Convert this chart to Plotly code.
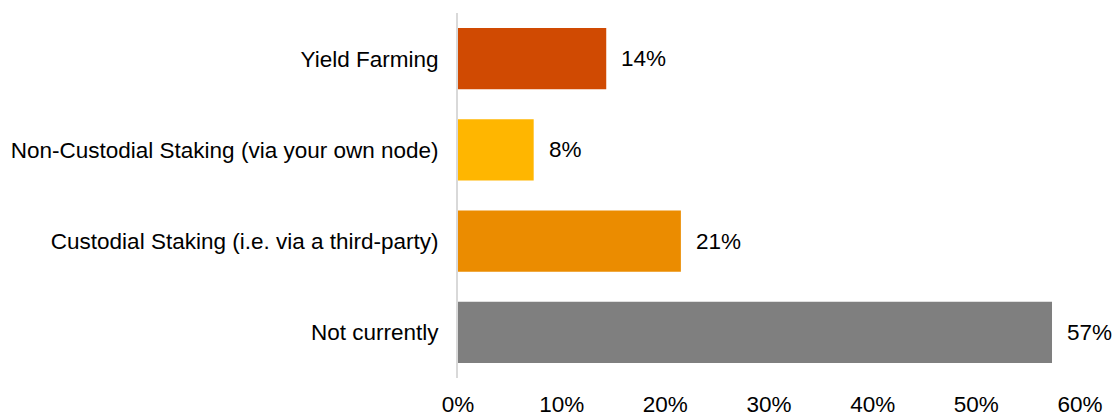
import plotly.graph_objects as go

categories = ["Yield Farming", "Non-Custodial Staking (via your own node)",
              "Custodial Staking (i.e. via a third-party)", "Not currently"]
values = [14.3, 7.3, 21.5, 57.3]
labels = ["14%", "8%", "21%", "57%"]
colors = ["#D04A02", "#FFB600", "#EB8C00", "#7F7F7F"]
xticks = [0, 10, 20, 30, 40, 50, 60]
xticklabels = ["0%", "10%", "20%", "30%", "40%", "50%", "60%"]

FS = 22.5

fig = go.Figure()
fig.add_trace(go.Bar(
    x=values, y=categories, orientation="h",
    marker=dict(color=colors, line=dict(width=0)),
    width=0.67, showlegend=False, hoverinfo="skip",
))
for c, v, t in zip(categories, values, labels):
    fig.add_annotation(x=v, y=c, text=t, showarrow=False, xanchor="left",
                       xshift=13, font=dict(size=FS, color="#000000"))

fig.update_layout(
    width=1113, height=416,
    margin=dict(l=458, r=33, t=13, b=38, autoexpand=False),
    paper_bgcolor="white", plot_bgcolor="white",
    font=dict(family="Liberation Sans, Arial, sans-serif", size=FS, color="#000000"),
    xaxis=dict(range=[0, 60], tickvals=xticks, ticktext=xticklabels,
               showgrid=False, zeroline=False, showline=False, automargin=False,
               ticks="outside", ticklen=6, tickcolor="white"),
    yaxis=dict(categoryorder="array", categoryarray=categories, autorange="reversed",
               showgrid=False, zeroline=False, showline=True, automargin=False,
               linecolor="#D9D9D9", linewidth=2,
               ticks="outside", ticklen=13, tickcolor="white"),
)
fig.write_html("out.html", config={"displayModeBar": False},
               post_script="document.body.style.margin='0';document.body.style.overflow='hidden';")
